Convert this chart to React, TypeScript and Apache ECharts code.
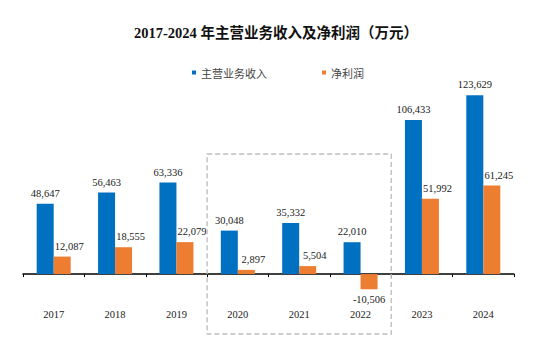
import React, { useEffect, useRef } from "react";
import * as echarts from "echarts";

const years = ["2017", "2018", "2019", "2020", "2021", "2022", "2023", "2024"];
const revenue = [48647, 56463, 63336, 30048, 35332, 22010, 106433, 123629];
const profit = [12087, 18555, 22079, 2897, 5504, -10506, 51992, 61245];
const seriesNames = ["主营业务收入", "净利润"];
const titleText = "2017-2024 年主营业务收入及净利润（万元）";
const boxStart = "2020";
const boxEnd = "2022";

const serif = "'Liberation Serif', 'Times New Roman', 'Noto Sans CJK SC', serif";
const fmt = (v: number) => v.toLocaleString("en-US");

export default function App() {
  const ref = useRef<HTMLDivElement>(null);
  useEffect(() => {
    if (!ref.current) return;
    const chart = echarts.init(ref.current, null, { renderer: "svg" });
    const labelBase = {
      show: true,
      fontFamily: serif,
      fontSize: 10.5,
      color: "#222",
      distance: 5,
      formatter: (p: any) => fmt(p.value),
    };
    chart.setOption({
      animation: false,
      title: {
        text: titleText,
        left: "center",
        top: 21,
        textStyle: { fontFamily: serif, fontSize: 14.5, fontWeight: "bold", color: "#111" },
      },
      legend: {
        data: seriesNames,
        left: 187,
        top: 62,
        itemWidth: 4,
        itemHeight: 4,
        itemGap: 55,
        icon: "rect",
        textStyle: { fontFamily: "'Noto Sans CJK SC', sans-serif", fontSize: 11, color: "#444" },
      },
      grid: { left: 23, right: 38, top: 86, bottom: 52 },
      xAxis: {
        type: "category",
        data: years,
        axisLine: { onZero: true, lineStyle: { color: "#000", width: 1.5 } },
        axisTick: { show: true, length: 3, lineStyle: { color: "#000" } },
        axisLabel: { margin: 6, fontFamily: serif, fontSize: 10.5, color: "#222" },
      },
      yAxis: {
        type: "value",
        min: -20000,
        max: 130000,
        show: false,
        splitLine: { show: false },
      },
      series: [
        {
          name: seriesNames[0],
          type: "bar",
          data: revenue,
          barWidth: 17,
          barGap: "0%",
          itemStyle: { color: "#0070C0" },
          label: { ...labelBase, position: "top" },
        },
        {
          name: seriesNames[1],
          type: "bar",
          data: profit.map((v) =>
            v < 0 ? { value: v, label: { position: "bottom", offset: [0, 0] } } : v
          ),
          barWidth: 17,
          itemStyle: { color: "#ED7D31" },
          label: { ...labelBase, position: "top", offset: [7, 0] },
        },
      ],
    });
    const a = chart.convertToPixel({ xAxisIndex: 0 }, boxStart) as number;
    const b = chart.convertToPixel({ xAxisIndex: 0 }, boxEnd) as number;
    const n = chart.convertToPixel({ xAxisIndex: 0 }, years[years.indexOf(boxStart) + 1]) as number;
    const band = n - a;
    const x0 = a - band / 2;
    const x1 = b + band / 2;
    chart.setOption({
      graphic: [
        {
          type: "rect",
          shape: { x: x0, y: 154, width: x1 - x0, height: 180 },
          style: { fill: "none", stroke: "#BDBDBD", lineWidth: 1.3, lineDash: [5, 3] },
          silent: true,
          z: 10,
        },
      ],
    });
    return () => chart.dispose();
  }, []);
  return (
    <div
      ref={ref}
      style={{ position: "fixed", left: 0, top: 0, width: 552, height: 355, background: "#fff" }}
    />
  );
}
